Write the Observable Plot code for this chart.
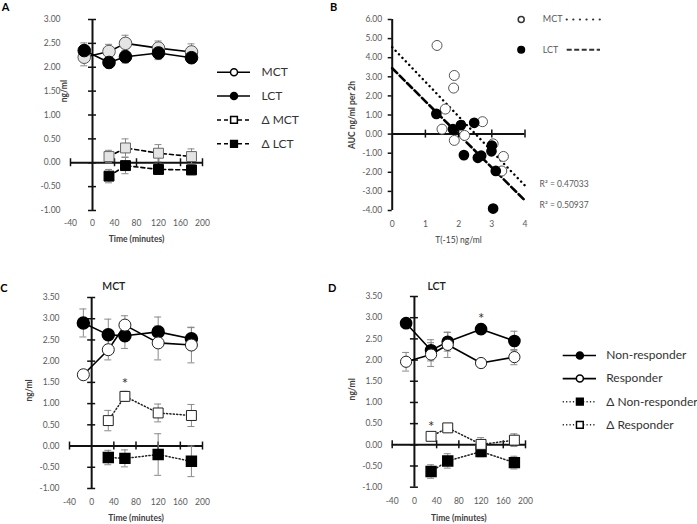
<!DOCTYPE html>
<html><head><meta charset="utf-8">
<script src="https://cdn.jsdelivr.net/npm/d3@7"></script>
<script src="https://cdn.jsdelivr.net/npm/@observablehq/plot@0.6"></script>
<style>
html,body{margin:0;padding:0;background:#fff;}
#root{position:relative;width:697px;height:524px;overflow:hidden;background:#fff;}
#root svg{position:absolute;left:0;top:0;background:transparent;overflow:visible;}
</style></head><body><div id="root"></div>
<script>
// ---------- Panel A data ----------
const timesA = [-15, 30, 60, 120, 180];
const mctA = [2.21, 2.33, 2.5, 2.4, 2.32];
const mctAErr = [0.18, 0.15, 0.17, 0.15, 0.17];
const lctA = [2.35, 2.1, 2.22, 2.3, 2.2];
const lctAErr = [0.16, 0.11, 0.13, 0.14, 0.1];
const deltaTimes = [30, 60, 120, 180];
const dMctA = [0.13, 0.31, 0.2, 0.13];
const dMctAErr = [0.13, 0.19, 0.18, 0.16];
const dLctA = [-0.28, -0.06, -0.14, -0.15];
const dLctAErr = [0.14, 0.17, 0.1, 0.1];
const legendA = ["MCT", "LCT", "Δ MCT", "Δ LCT"];

// ---------- Panel B data ----------
const mctBX = [1.35, 1.87, 1.85, 1.6, 1.5, 1.87, 2.18, 2.72, 3.04, 3.35, 3.3];
const mctBY = [4.64, 3.07, 2.41, 1.31, 0.26, -0.33, -0.07, 0.65, -0.51, -1.17, -1.93];
const lctBX = [1.33, 1.83, 2.07, 2.47, 2.16, 2.58, 2.68, 3.0, 2.99, 3.12, 3.04];
const lctBY = [1.06, 0.26, 0.47, 0.59, -1.1, -1.24, -1.13, -0.6, -0.9, -1.93, -3.9];
const fitX = [0, 4];
const fitMctY = [4.55, -2.7];
const fitLctY = [3.45, -3.48];
const r2Labels = ["R² = 0.47033", "R² = 0.50937"];
const legendB = ["MCT", "LCT"];

// ---------- Panel C data (MCT) ----------
const timesC = [-15, 30, 60, 120, 180];
const nrC = [2.9, 2.62, 2.6, 2.69, 2.53];
const nrCErr = [0.33, 0.37, 0.3, 0.35, 0.26];
const rC = [1.68, 2.27, 2.85, 2.43, 2.38];
const rCErr = [0.05, 0.24, 0.22, 0.4, 0.42];
const dRC = [0.6, 1.17, 0.78, 0.72];
const dRCErr = [0.24, 0.12, 0.21, 0.26];
const dNrC = [-0.27, -0.29, -0.2, -0.36];
const dNrCErr = [0.17, 0.2, 0.49, 0.36];

// ---------- Panel D data (LCT) ----------
const nrD = [2.87, 2.23, 2.43, 2.73, 2.45];
const nrDErr = [0.05, 0.25, 0.22, 0.12, 0.23];
const rD = [1.96, 2.13, 2.36, 1.93, 2.07];
const rDErr = [0.22, 0.28, 0.3, 0.04, 0.18];
const dNrD = [-0.63, -0.38, -0.16, -0.42];
const dNrDErr = [0.16, 0.17, 0.12, 0.15];
const dRD = [0.2, 0.4, 0.01, 0.11];
const dRDErr = [0.02, 0.02, 0.16, 0.15];
const legendD = ["Non-responder", "Responder", "Δ Non-responder", "Δ Responder"];

// ---------- tick labels ----------
const xTicksTime = [-40, 0, 40, 80, 120, 160, 200];
const yTicksA = [-1, -0.5, 0, 0.5, 1, 1.5, 2, 2.5, 3];
const xTicksB = [0, 1, 2, 3, 4];
const yTicksB = [-4, -3, -2, -1, 0, 1, 2, 3, 4, 5, 6];
const yTicksCD = [-1, -0.5, 0, 0.5, 1, 1.5, 2, 2.5, 3, 3.5];

// ---------- styling ----------
const W = 697, H = 524;
const FONT = "Lato, 'Open Sans', 'DejaVu Sans', sans-serif";
const AX = "#111", ERR = "#8a8a8a", LBL = "#595959", TTL = "#404040";
const fmt2 = d => d.toFixed(2).replace("−", "-");

function rowsOf(ts, vs, es) { return ts.map((t, i) => ({t, v: vs[i], e: es ? es[i] : 0})); }

function axisMarks(o) {
  return [
    Plot.ruleY(o.yt, {y: d => d, x1: () => 0, x2: () => 0, insetLeft: -4, insetRight: o.yBoth ? -4 : 0, stroke: AX, strokeWidth: 1.5}),
    Plot.ruleX(o.xt.filter(d => d !== 0), {x: d => d, y1: () => 0, y2: () => 0, insetTop: -4, insetBottom: -4, stroke: AX, strokeWidth: 1.5}),
    Plot.ruleX([0], {x: d => d, y1: () => o.yd[0], y2: () => o.yd[1], stroke: AX, strokeWidth: 2}),
    Plot.ruleY([0], {y: d => d, x1: () => o.xd[0], x2: () => o.xd[1], stroke: AX, strokeWidth: 2}),
    Plot.text(o.yt, {x: () => o.xd[0], y: d => d, text: fmt2, textAnchor: "end", dx: -10, fill: LBL, fontSize: 8.5}),
    Plot.text(o.xt, {x: d => d, y: () => o.yd[0], text: d => String(d), dy: o.xdy, fill: LBL, fontSize: 8.5})
  ];
}
function errMarks(rows, cap = 3.5) {
  return [
    Plot.ruleX(rows, {x: "t", y1: d => d.v - d.e, y2: d => d.v + d.e, stroke: ERR, strokeWidth: 1}),
    Plot.ruleY(rows, {y: d => d.v + d.e, x1: "t", x2: "t", insetLeft: -cap, insetRight: -cap, stroke: ERR, strokeWidth: 1}),
    Plot.ruleY(rows, {y: d => d.v - d.e, x1: "t", x2: "t", insetLeft: -cap, insetRight: -cap, stroke: ERR, strokeWidth: 1})
  ];
}
function label(txt, x, y, opts) {
  return Plot.text([txt], {x: () => x, y: () => y, text: d => d, ...opts});
}
function mk(xs, ys, marks) {
  return Plot.plot({
    width: W, height: H, margin: 0,
    x: {type: "linear", domain: xs[0], range: xs[1], axis: null},
    y: {type: "linear", domain: ys[0], range: ys[1], axis: null},
    style: {background: "transparent", fontFamily: FONT, overflow: "visible"},
    marks
  });
}

const root = document.getElementById("root");

// ---------- Panel A ----------
const mctRowsA = rowsOf(timesA, mctA, mctAErr);
const lctRowsA = rowsOf(timesA, lctA, lctAErr);
const dMctRowsA = rowsOf(deltaTimes, dMctA, dMctAErr);
const dLctRowsA = rowsOf(deltaTimes, dLctA, dLctAErr);
root.append(mk([[-40, 200], [70, 202]], [[-1, 3], [210, 19]], [
  ...axisMarks({xd: [-40, 200], yd: [-1, 3], xt: xTicksTime, yt: yTicksA, yBoth: true, xdy: 12.5}),
  ...errMarks(mctRowsA), ...errMarks(lctRowsA), ...errMarks(dMctRowsA), ...errMarks(dLctRowsA),
  Plot.line(mctRowsA, {x: "t", y: "v", stroke: "#000", strokeWidth: 1.6}),
  Plot.line(lctRowsA, {x: "t", y: "v", stroke: "#000", strokeWidth: 1.6}),
  Plot.line(dMctRowsA, {x: "t", y: "v", stroke: "#000", strokeWidth: 1.6, strokeDasharray: "4,3"}),
  Plot.line(dLctRowsA, {x: "t", y: "v", stroke: "#000", strokeWidth: 1.6, strokeDasharray: "4,3"}),
  Plot.dot(mctRowsA, {x: "t", y: "v", r: 6.3, fill: "#e4e4e4", stroke: "#555", strokeWidth: 1}),
  Plot.dot(lctRowsA, {x: "t", y: "v", r: 6.3, fill: "#000", stroke: "#000", strokeWidth: 1}),
  Plot.dot(dMctRowsA, {x: "t", y: "v", r: 5.6, symbol: "square", fill: "#e4e4e4", stroke: "#666", strokeWidth: 1}),
  Plot.dot(dLctRowsA, {x: "t", y: "v", r: 5.6, symbol: "square", fill: "#000", stroke: "#000", strokeWidth: 1}),
  label("A", -40, 3, {dx: -65, dy: -12, fontWeight: "bold", fontSize: 11, fill: "#000"}),
  label("Time (minutes)", 80, -1, {dy: 29, fontWeight: "bold", fontSize: 8.5, fill: TTL}),
  label("ng/ml", -40, 1.5, {dx: -6, rotate: -90, fontWeight: "bold", fontSize: 8.5, fill: TTL})
]));
// Legend A
root.append(mk([[0, 1], [217, 250]], [[0, 3], [71.7, 143.3]], [
  Plot.ruleY([0, 1], {y: d => d, x1: () => 0, x2: () => 1, stroke: "#000", strokeWidth: 1.6}),
  Plot.ruleY([2, 3], {y: d => d, x1: () => 0, x2: () => 1, stroke: "#000", strokeWidth: 1.6, strokeDasharray: "4,3"}),
  Plot.dot([0], {x: () => 0.5, y: d => d, r: 3.5, fill: "#fff", stroke: "#000"}),
  Plot.dot([1], {x: () => 0.5, y: d => d, r: 3.5, fill: "#000", stroke: "#000"}),
  Plot.dot([2], {x: () => 0.5, y: d => d, r: 3.8, symbol: "square", fill: "#fff", stroke: "#000"}),
  Plot.dot([3], {x: () => 0.5, y: d => d, r: 3.8, symbol: "square", fill: "#000", stroke: "#000"}),
  Plot.text(legendA, {x: () => 1, y: (d, i) => i, text: d => d, dx: 11, textAnchor: "start", fontSize: 12, fill: "#333"})
]));

// ---------- Panel B ----------
const mctPtsB = mctBX.map((x, i) => ({x, y: mctBY[i]}));
const lctPtsB = lctBX.map((x, i) => ({x, y: lctBY[i]}));
const fitMct = fitX.map((x, i) => ({x, y: fitMctY[i]}));
const fitLct = fitX.map((x, i) => ({x, y: fitLctY[i]}));
root.append(mk([[0, 4], [391.7, 524.5]], [[-4, 6], [210, 19]], [
  ...axisMarks({xd: [0, 4], yd: [-4, 6], xt: xTicksB, yt: yTicksB, yBoth: false, xdy: 14}),
  Plot.line(fitMct, {x: "x", y: "y", stroke: "#000", strokeWidth: 2.4, strokeDasharray: "0.1,4.8", strokeLinecap: "round"}),
  Plot.line(fitLct, {x: "x", y: "y", stroke: "#000", strokeWidth: 2.6, strokeDasharray: "7,3.5"}),
  Plot.dot(mctPtsB, {x: "x", y: "y", r: 5, fill: "#fff", stroke: "#555", strokeWidth: 1}),
  Plot.dot(lctPtsB, {x: "x", y: "y", r: 4.6, fill: "#000", stroke: "#000"}),
  Plot.text(r2Labels, {x: () => 4.44, y: (d, i) => [-2.65, -3.7][i], text: d => d, textAnchor: "start", fontSize: 8.5, fill: LBL}),
  label("B", 0, 6, {dx: -58.7, dy: -12, fontWeight: "bold", fontSize: 11, fill: "#000"}),
  label("T(-15) ng/ml", 2, -4, {dy: 30, fontSize: 8.5, fill: TTL}),
  label("AUC ng/ml per 2h", 0, 1.0, {dx: -40, rotate: -90, fontWeight: "bold", fontSize: 8.5, fill: TTL})
]));
// Legend B
root.append(mk([[0, 1], [520.7, 600]], [[0, 1], [19, 49.3]], [
  Plot.ruleY([0], {y: d => d, x1: () => 0.58, x2: () => 1, stroke: "#333", strokeWidth: 2.2, strokeDasharray: "0.1,6.5", strokeLinecap: "round"}),
  Plot.ruleY([1], {y: d => d, x1: () => 0.58, x2: () => 1, stroke: "#333", strokeWidth: 2, strokeDasharray: "5,2.5"}),
  Plot.dot([0], {x: () => 0, y: d => d, r: 3, fill: "#fff", stroke: "#333"}),
  Plot.dot([1], {x: () => 0, y: d => d, r: 3.3, fill: "#000", stroke: "#000"}),
  Plot.text(legendB, {x: () => 0.272, y: (d, i) => i, text: d => d, textAnchor: "start", fontSize: 9, fill: LBL})
]));

// ---------- Panel C ----------
const nrRowsC = rowsOf(timesC, nrC, nrCErr);
const rRowsC = rowsOf(timesC, rC, rCErr);
const dRRowsC = rowsOf(deltaTimes, dRC, dRCErr);
const dNrRowsC = rowsOf(deltaTimes, dNrC, dNrCErr);
root.append(mk([[-40, 200], [69, 202]], [[-1, 3.5], [488, 297]], [
  ...axisMarks({xd: [-40, 200], yd: [-1, 3.5], xt: xTicksTime, yt: yTicksCD, yBoth: true, xdy: 14}),
  ...errMarks(nrRowsC), ...errMarks(rRowsC), ...errMarks(dRRowsC), ...errMarks(dNrRowsC),
  Plot.line(nrRowsC, {x: "t", y: "v", stroke: "#000", strokeWidth: 1.6}),
  Plot.line(rRowsC, {x: "t", y: "v", stroke: "#000", strokeWidth: 1.6}),
  Plot.line(dRRowsC, {x: "t", y: "v", stroke: "#222", strokeWidth: 1.5, strokeDasharray: "1.2,2.2"}),
  Plot.line(dNrRowsC, {x: "t", y: "v", stroke: "#222", strokeWidth: 1.5, strokeDasharray: "1.2,2.2"}),
  Plot.dot(nrRowsC, {x: "t", y: "v", r: 6, fill: "#000", stroke: "#000"}),
  Plot.dot(rRowsC, {x: "t", y: "v", r: 6, fill: "#fff", stroke: "#222", strokeWidth: 1}),
  Plot.dot(dRRowsC, {x: "t", y: "v", r: 5.6, symbol: "square", fill: "#fff", stroke: "#222", strokeWidth: 1}),
  Plot.dot(dNrRowsC, {x: "t", y: "v", r: 5.6, symbol: "square", fill: "#000", stroke: "#000"}),
  Plot.text([dRRowsC[1]], {x: "t", y: "v", text: () => "*", dy: -12, fontSize: 15, fill: "#333"}),
  label("C", -40, 3.5, {dx: -65.7, dy: -9, fontWeight: "bold", fontSize: 11, fill: "#000"}),
  label("MCT", 40, 3.5, {dy: -11, fontWeight: 600, fontSize: 10.5, fill: "#222"}),
  label("Time (minutes)", 80, -1, {dy: 30, fontWeight: "bold", fontSize: 8.5, fill: TTL}),
  label("ng/ml", -40, 1.31, {dx: -40, rotate: -90, fontWeight: "bold", fontSize: 8.5, fill: TTL})
]));

// ---------- Panel D ----------
const nrRowsD = rowsOf(timesC, nrD, nrDErr);
const rRowsD = rowsOf(timesC, rD, rDErr);
const dNrRowsD = rowsOf(deltaTimes, dNrD, dNrDErr);
const dRRowsD = rowsOf(deltaTimes, dRD, dRDErr);
root.append(mk([[-40, 200], [391.7, 525]], [[-1, 3.5], [486.7, 296]], [
  ...axisMarks({xd: [-40, 200], yd: [-1, 3.5], xt: xTicksTime, yt: yTicksCD, yBoth: true, xdy: 14}),
  ...errMarks(nrRowsD), ...errMarks(rRowsD), ...errMarks(dNrRowsD), ...errMarks(dRRowsD),
  Plot.line(nrRowsD, {x: "t", y: "v", stroke: "#000", strokeWidth: 1.6}),
  Plot.line(rRowsD, {x: "t", y: "v", stroke: "#000", strokeWidth: 1.6}),
  Plot.line(dNrRowsD, {x: "t", y: "v", stroke: "#222", strokeWidth: 1.5, strokeDasharray: "1.2,2.2"}),
  Plot.line(dRRowsD, {x: "t", y: "v", stroke: "#222", strokeWidth: 1.5, strokeDasharray: "1.2,2.2"}),
  Plot.dot(nrRowsD, {x: "t", y: "v", r: 5.6, fill: "#000", stroke: "#000"}),
  Plot.dot(rRowsD, {x: "t", y: "v", r: 5.6, fill: "#fff", stroke: "#222", strokeWidth: 1}),
  Plot.dot(dNrRowsD, {x: "t", y: "v", r: 5.6, symbol: "square", fill: "#000", stroke: "#000"}),
  Plot.dot(dRRowsD, {x: "t", y: "v", r: 5.6, symbol: "square", fill: "#fff", stroke: "#222", strokeWidth: 1}),
  Plot.text([nrRowsD[3]], {x: "t", y: "v", text: () => "*", dy: -10, fontSize: 15, fill: "#333"}),
  Plot.text([dRRowsD[0]], {x: "t", y: "v", text: () => "*", dy: -9, fontSize: 15, fill: "#333"}),
  label("D", -40, 3.5, {dx: -60, dy: -8, fontWeight: "bold", fontSize: 11, fill: "#000"}),
  label("LCT", 40, 3.5, {dy: -10, fontWeight: 600, fontSize: 10.5, fill: "#222"}),
  label("Time (minutes)", 80, -1, {dy: 31, fontWeight: "bold", fontSize: 8.5, fill: TTL}),
  label("ng/ml", -40, 1.31, {dx: -40, rotate: -90, fontWeight: "bold", fontSize: 8.5, fill: TTL})
]));
// Legend C/D
root.append(mk([[0, 1], [562.7, 596]], [[0, 3], [355, 424.3]], [
  Plot.ruleY([0, 1], {y: d => d, x1: () => 0, x2: () => 1, stroke: "#000", strokeWidth: 1.6}),
  Plot.ruleY([2, 3], {y: d => d, x1: () => 0, x2: () => 1, stroke: "#222", strokeWidth: 1.5, strokeDasharray: "1.2,2.2"}),
  Plot.dot([0], {x: () => 0.5, y: d => d, r: 3.5, fill: "#000", stroke: "#000"}),
  Plot.dot([1], {x: () => 0.5, y: d => d, r: 3.5, fill: "#fff", stroke: "#000"}),
  Plot.dot([2], {x: () => 0.5, y: d => d, r: 3.8, symbol: "square", fill: "#000", stroke: "#000"}),
  Plot.dot([3], {x: () => 0.5, y: d => d, r: 3.8, symbol: "square", fill: "#fff", stroke: "#000"}),
  Plot.text(legendD, {x: () => 1, y: (d, i) => i, text: d => d, dx: 9.7, textAnchor: "start", fontSize: 12, fill: "#333"})
]));
</script></body></html>
